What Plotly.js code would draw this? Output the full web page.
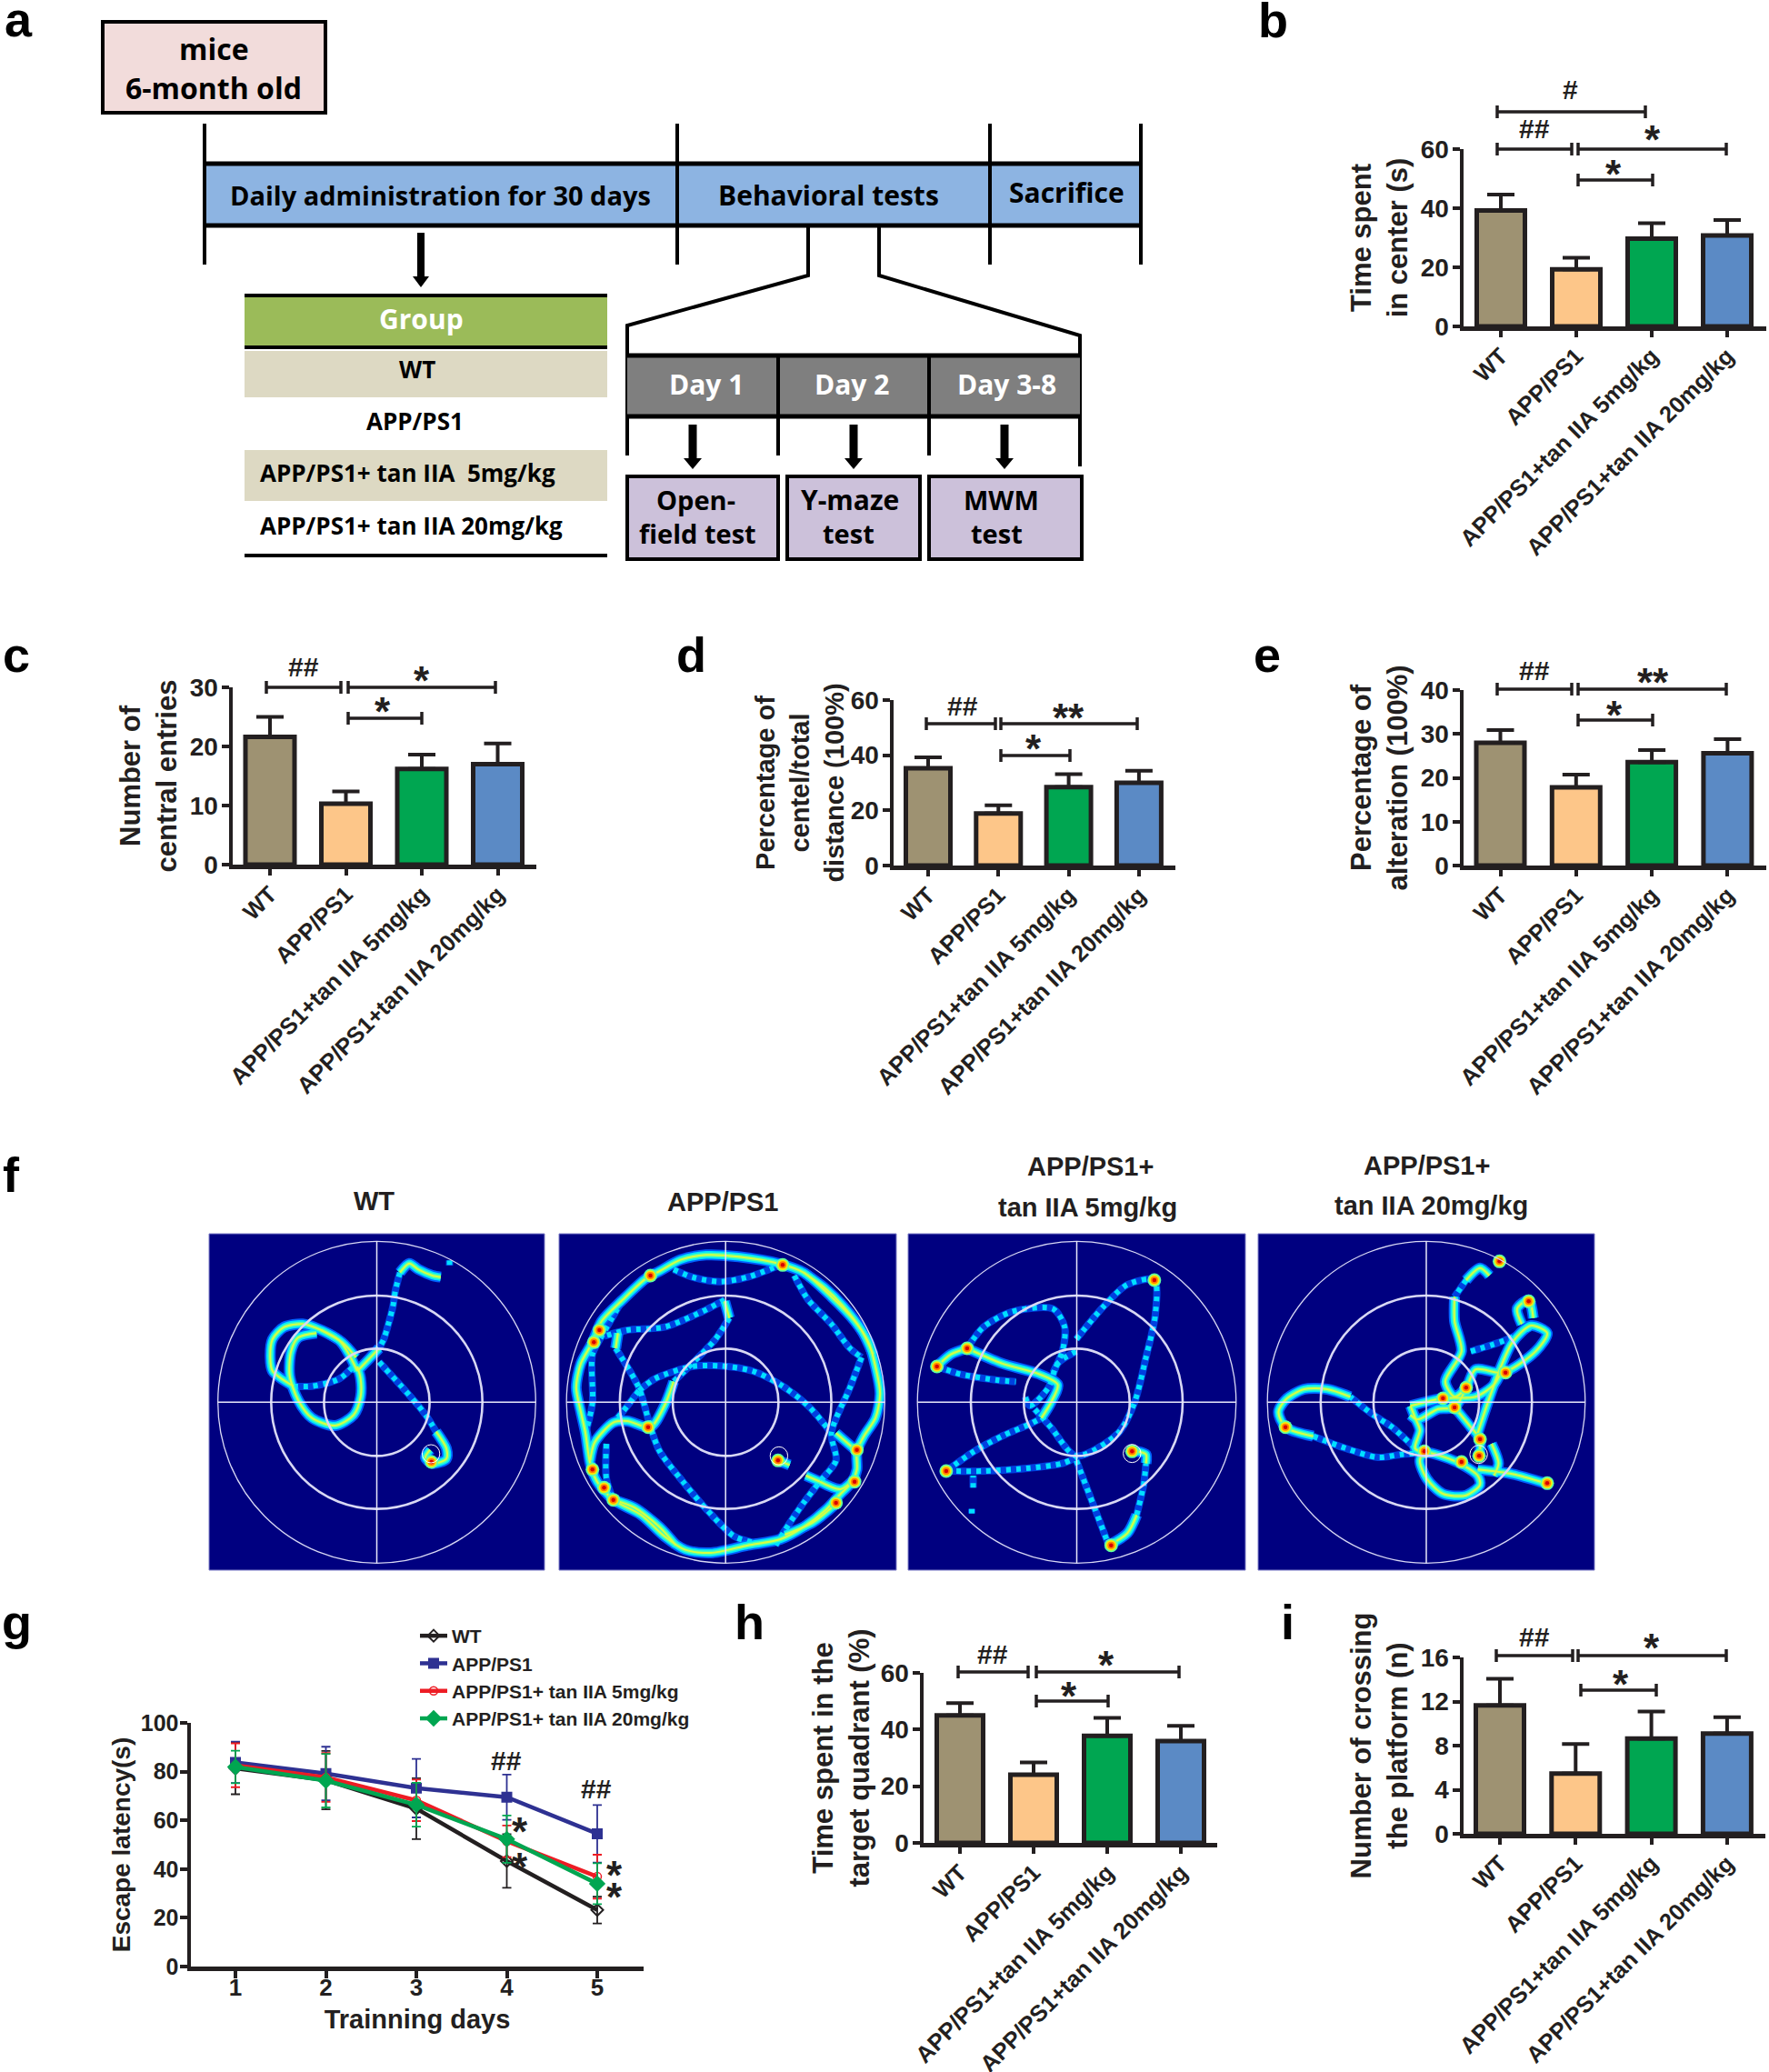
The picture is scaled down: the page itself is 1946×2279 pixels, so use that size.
<!DOCTYPE html>
<html><head><meta charset="utf-8">
<script src="https://cdn.plot.ly/plotly-3.0.1.min.js"></script>
<style>html,body{margin:0;padding:0;background:#fff}</style></head>
<body><div id="chart" style="width:1946px;height:2279px"></div>
<script>
// ---------- categories ----------
const groups = ['WT','APP/PS1','APP/PS1+tan IIA 5mg/kg','APP/PS1+tan IIA 20mg/kg'];
const groupColors = ['#9e9272','#fdc689','#00a651','#5b8ac5'];
const days = [1,2,3,4,5];
// ---------- bar values ----------
const bValues=[39.2,19.3,29.7,30.8], bErrors=[5.4,3.9,5.2,5.2];
const cValues=[21.6,10.3,16.2,17.0], cErrors=[3.4,2.1,2.4,3.5];
const dValues=[35.3,18.9,28.4,30.0], dErrors=[3.9,2.9,4.7,4.4];
const eValues=[28.0,17.8,23.6,25.6], eErrors=[2.9,2.9,2.7,3.2];
const hValues=[45.0,24.1,37.8,35.9], hErrors=[4.3,4.3,6.3,5.4];
const iValues=[11.64,5.46,8.63,9.10], iErrors=[2.43,2.68,2.46,1.47];
// ---------- escape latency ----------
const wtLatency=[81.3,76.5,64.8,43.3,23.2], wtLatencyErr=[10.6,12,12.5,11,5.5];
const appLatency=[83.8,79.2,73.2,69.5,54.5], appLatencyErr=[8.5,11,12,9.3,11.8];
const low5Latency=[82.6,77.6,68.2,51.4,36.9], low5LatencyErr=[9,10,8.5,6.5,9];
const high20Latency=[81.9,76.3,66.4,52.3,34.0], high20LatencyErr=[6.7,11,9,9.7,8.4];
const latencyNames=['WT','APP/PS1','APP/PS1+ tan IIA 5mg/kg','APP/PS1+ tan IIA 20mg/kg'];
// ---------- swim paths (frame coordinates) ----------
const wtSlow=[
 [[558,435],[540,430],[510,410],[490,390],[470,420]],
 [[378,745],[360,690],[340,645],[300,610],[260,590],[220,600],[195,640],[190,700],[195,745],[240,795]],
 [[290,620],[250,635],[235,680],[232,760],[250,840],[280,900],[330,925],[370,890],[385,830],[385,770],[378,730]],
 [[300,610],[345,650],[375,700]],
 [[378,745],[400,710],[425,670]],
 [[548,945],[570,1000],[570,1035],[540,1050],[525,1030],[535,1005]]];
const wtFast=[
 [[577,380],[577,397]],
 [[470,420],[460,480],[455,530],[445,590],[435,640],[425,670]],
 [[240,795],[280,795],[340,770],[375,720]],
 [[425,715],[470,790],[510,860],[530,900],[548,945]]];
const wtHot=[[538,1045]];
const appSlow=[
 [[1030,415],[1075,378],[1130,362],[1200,368],[1290,392],[1340,420],[1400,500],[1450,580],[1480,650],[1495,730],[1505,820],[1495,900],[1470,960],[1455,1010],[1455,1070],[1445,1110],[1420,1150],[1390,1200],[1340,1260],[1290,1300],[1220,1320],[1140,1345],[1085,1335],[1040,1290],[990,1220],[930,1170],[895,1110],[880,1050],[870,950],[860,880],[850,800],[860,720],[885,650],[905,580],[950,510],[1000,440],[1030,415]],
 [[1375,1110],[1420,1135],[1450,1100]],[[1345,1090],[1375,1110]],
 [[1410,950],[1455,1010]],
 [[1170,515],[1180,570]],[[1060,780],[1040,860],[1010,930],[960,910],[930,915],[890,980],[880,1040]],
 [[940,620],[935,670]],[[1285,1040],[1310,1055]],
 [[1340,420],[1385,470],[1425,530],[1465,610],[1490,690]],
 [[1300,1285],[1360,1245],[1405,1190]],
 [[930,1170],[975,1195],[1030,1260],[1065,1320]]];
const appFast=[
 [[1060,410],[1100,435],[1160,450],[1220,435],[1290,395]],
 [[1320,430],[1350,510],[1400,590],[1440,670],[1465,700]],
 [[1465,700],[1440,800],[1400,950],[1410,1040],[1375,1110],[1340,1180],[1300,1270],[1280,1320]],
 [[985,810],[1020,770],[1100,730],[1160,728],[1230,745],[1290,790],[1350,860],[1395,940]],
 [[1180,570],[1150,640],[1100,720],[1060,780]],
 [[1170,510],[1120,550],[1040,600],[960,610],[910,630]],
 [[935,670],[985,800],[1010,930],[1030,1010],[1080,1110],[1130,1200],[1190,1290],[1230,1310]],
 [[915,985],[915,1100],[930,1170]],
 [[950,510],[905,630],[885,690],[885,850],[870,950]],
 [[985,810],[950,880],[930,915]]];
const appHot=[[1010,430],[900,610],[888,650],[885,1070],[930,1170],[910,1130],[1295,395],[1450,1110],[1285,1040],[1455,1005],[1005,930],[1410,1180]];
const low5Slow=[
 [[165,670],[240,720],[320,755],[360,790],[345,850],[325,900]],
 [[165,670],[130,690],[100,730]],
 [[470,1320],[510,1280],[530,1220]],
 [[550,1050],[550,1020],[530,1010]]];
const low5Fast=[
 [[175,1200],[175,1215]],[[178,1130],[178,1090]],
 [[120,1075],[180,1010],[240,960],[300,920],[325,900]],
 [[120,1075],[200,1075],[300,1065],[370,1050],[400,1030]],
 [[400,1040],[420,1120],[440,1200],[470,1320]],
 [[530,1220],[545,1120],[550,1050]],
 [[100,730],[150,755],[230,775],[270,780]],
 [[165,670],[200,600],[260,550],[350,540],[375,600],[370,680],[350,750]],
 [[400,680],[360,720],[340,800],[300,860],[290,830]],
 [[400,640],[460,530],[510,460],[568,445],[570,560],[550,700],[525,850],[490,950],[400,1025],[345,930],[310,870]]];
const low5Hot=[[120,1075],[100,730],[165,670],[475,1320],[520,1010],[568,445]];
const high20Slow=[
 [[1290,430],[1270,405],[1240,445]],
 [[1215,500],[1215,580],[1230,680],[1195,780],[1215,830],[1240,800],[1260,740],[1320,750],[1390,680],[1415,620],[1380,595],[1340,650],[1310,750],[1280,880],[1265,950]],
 [[1360,590],[1350,540],[1375,510],[1385,570]],
 [[1120,860],[1190,835],[1260,830],[1300,790],[1315,750]],
 [[1120,860],[1130,900],[1140,940],[1130,1000],[1150,1015]],
 [[1120,890],[1135,905],[1180,870],[1215,865],[1240,800]],
 [[1215,865],[1250,930],[1270,970],[1268,1030]],
 [[990,830],[940,805],[890,805],[850,840],[835,880],[850,930],[910,960]],
 [[1150,1015],[1220,1045],[1265,1090],[1270,1120],[1240,1155],[1190,1150],[1155,1100],[1140,1040],[1150,1015]],
 [[1265,1070],[1340,1085],[1410,1115]],
 [[1300,1090],[1310,1050],[1295,985]]];
const high20Fast=[
 [[1312,378],[1305,392]],
 [[1240,445],[1215,500]],
 [[1250,680],[1330,640],[1380,600]],
 [[1130,1000],[1080,930],[1040,890],[990,830]],
 [[910,960],[980,1000],[1050,1030],[1100,1020],[1150,1015]]];
const high20Hot=[[1312,383],[850,930],[1150,1010],[1325,750],[1240,800],[1190,835],[1215,865],[1268,1025],[1415,1115],[1230,1045],[1270,970],[1375,515]];

// ---------- layout helpers ----------
const W=1946,H=2279,ink='#231f20',sans='Liberation Sans',soft='Open Sans';
const fx=x=>x/W, fy=y=>1-y/H;
const traces=[],shapes=[],annots=[],layout={};
function text(t,x,y,size,opt={}){annots.push(Object.assign({text:t,xref:'paper',yref:'paper',x:fx(x),y:fy(y),showarrow:false,xanchor:'center',yanchor:'middle',font:{family:sans,size,color:ink,weight:700}},opt));}
function softText(t,x,y,size,color='#000',anchor='center'){text(t,x,y,size,{xanchor:anchor,font:{family:soft,size,color,weight:700}});}
function path(pts,close){return pts.map((p,i)=>(i?'L':'M')+fx(p[0])+','+fy(p[1])).join(' ')+(close?' Z':'');}
function poly(pts,fill,lw,color){shapes.push({type:'path',xref:'paper',yref:'paper',path:path(pts,!!fill),fillcolor:fill||'rgba(0,0,0,0)',line:{color:color||'#000',width:lw||0}});}
function rect(x0,y0,x1,y1,fill,lw,color,layer){shapes.push({type:'rect',xref:'paper',yref:'paper',layer:layer||'above',x0:fx(x0),x1:fx(x1),y0:fy(y0),y1:fy(y1),fillcolor:fill||'rgba(0,0,0,0)',line:{color:color||'#000',width:lw||0}});}
function line(x0,y0,x1,y1,lw,color){poly([[x0,y0],[x1,y1]],null,lw,color||'#000');}
function arrow(x,y0,y1,sw,hw,hl){poly([[x-sw/2,y0],[x+sw/2,y0],[x+sw/2,y1-hl],[x+hw/2,y1-hl],[x,y1],[x-hw/2,y1-hl],[x-sw/2,y1-hl]],'#000');}
function bracket(x0,x1,y){poly([[x0,y-7],[x0,y+7]],null,3.5,ink);poly([[x1,y-7],[x1,y+7]],null,3.5,ink);poly([[x0,y],[x1,y]],null,3.5,ink);}
function mark(t,x,y){const star=t[0]==='*';text(t,x,y+(star?9:0),star?44:30);}
let axisN=0;
function newAxes(l,r,t,b){axisN++;const s=axisN===1?'':String(axisN);
 return {xk:'xaxis'+s,yk:'yaxis'+s,x:'x'+s,y:'y'+s,xd:[fx(l),fx(r)],yd:[fy(b),fy(t)]};}
function axisStyle(){return {showgrid:false,zeroline:false,showline:true,linecolor:ink,linewidth:4.5,ticks:'outside',tickcolor:ink,tickwidth:4,ticklen:8};}

// ---------- panels b, c, d, e, h, i ----------
function barPanel(p){
 const a=newAxes(p.l,p.r,p.t,p.b);
 traces.push({type:'bar',x:groups,y:p.values,width:p.barw/p.step,xaxis:a.x,yaxis:a.y,showlegend:false,cliponaxis:false,
  marker:{color:groupColors,line:{color:ink,width:5}},
  error_y:{type:'data',symmetric:false,array:p.errors,arrayminus:[0,0,0,0],color:ink,thickness:4,width:15}});
 layout[a.xk]=Object.assign(axisStyle(),{domain:a.xd,anchor:a.y,type:'category',range:[(p.l-p.c0)/p.step,(p.r-p.c0)/p.step],tickangle:-45,ticklen:7,ticklabelstandoff:-4,tickfont:{family:sans,size:25.5,color:ink,weight:700}});
 layout[a.yk]=Object.assign(axisStyle(),{domain:a.yd,anchor:a.x,range:[0,p.ymax],tickvals:p.ticks,tickfont:{family:sans,size:28,color:ink,weight:700},ticklabelstandoff:-2,
  title:{text:p.title,standoff:p.standoff,font:{family:sans,size:p.tsize||31,color:ink,weight:700}}});
 p.marks.forEach(m=>{if(m[1]!==null)bracket(m[1],m[2],m[3]);mark(m[0],m[4],m[5]);});
}
barPanel({values:bValues,errors:bErrors,ymax:60,ticks:[0,20,40,60],l:1610,r:1943,t:164,b:359,c0:1651,step:83,barw:53,title:'Time spent<br>in center (s)',standoff:6,
 marks:[['#',1647,1810,123,1727,99],['##',1647,1729,164,1688,142],['*',1736,1899,164,1818,145],['*',1736,1818,198,1775,182]]});
barPanel({values:cValues,errors:cErrors,ymax:30,ticks:[0,10,20,30],l:256,r:590,t:756,b:951,c0:297,step:83.5,barw:54,title:'Number of<br>central entries',standoff:6,
 marks:[['##',293,375,756,334,733],['*',383,545,756,464,739],['*',383,464,790,421,773]]});
barPanel({values:dValues,errors:dErrors,ymax:60,ticks:[0,20,40,60],l:983,r:1293,t:770,b:952,c0:1021,step:77.3,barw:49,title:'Percentage of<br>centel/total<br>distance (100%)',standoff:0,tsize:29,
 marks:[['##',1019,1095,796,1059,777],['**',1101,1251,796,1175,780],['*',1101,1177,831,1137,815]]});
barPanel({values:eValues,errors:eErrors,ymax:40,ticks:[0,10,20,30,40],l:1610,r:1943,t:759,b:952,c0:1650.5,step:83.3,barw:53,title:'Percentage of<br>alteration (100%)',standoff:6,
 marks:[['##',1647,1729,758,1688,738],['**',1736,1899,758,1818,741],['*',1736,1818,792,1776,777]]});
barPanel({values:hValues,errors:hErrors,ymax:60,ticks:[0,20,40,60],l:1016,r:1339,t:1840,b:2027,c0:1056,step:81,barw:51,title:'Time spent in the<br>target quadrant (%)',standoff:4,
 marks:[['##',1054,1131,1839,1092,1819],['*',1140,1297,1839,1217,1822],['*',1140,1219,1871,1176,1856]]});
barPanel({values:iValues,errors:iErrors,ymax:16,ticks:[0,4,8,12,16],l:1610,r:1942,t:1823,b:2017,c0:1650,step:83.3,barw:53,title:'Number of crossing<br>the platform (n)',standoff:6,
 marks:[['##',1646,1730,1821,1688,1800],['*',1736,1899,1821,1817,1803],['*',1739,1822,1859,1783,1843]]});

// ---------- panel g ----------
(function(){
 const a=newAxes(210,708,1895,2163);
 const rows=[[wtLatency,wtLatencyErr,'#231f20','diamond-open',10],[appLatency,appLatencyErr,'#2e3192','square',10],[low5Latency,low5LatencyErr,'#ed1c24','circle-open',9],[high20Latency,high20LatencyErr,'#00a651','diamond',12]];
 rows.forEach((r,i)=>traces.push({type:'scatter',mode:'lines+markers',name:latencyNames[i],x:days,y:r[0],xaxis:a.x,yaxis:a.y,cliponaxis:false,
  line:{color:r[2],width:4.5},marker:{color:r[2],symbol:r[3],size:r[4],line:{color:i===2?'#5a2a2a':r[2],width:i===2?1.5:2}},
  error_y:{type:'data',array:r[1],color:r[2],thickness:1.8,width:5}}));
 layout[a.xk]=Object.assign(axisStyle(),{domain:a.xd,anchor:a.y,range:[1+(210-259)/99.5,1+(708-259)/99.5],tickvals:days,tickfont:{family:sans,size:26,color:ink,weight:700},ticklabelstandoff:-12,
  title:{text:'Trainning days',standoff:12,font:{family:sans,size:29,color:ink,weight:700}}});
 layout[a.yk]=Object.assign(axisStyle(),{domain:a.yd,anchor:a.x,range:[0,100],tickvals:[0,20,40,60,80,100],tickfont:{family:sans,size:25,color:ink,weight:700},ticklabelstandoff:-4,
  title:{text:'Escape latency(s)',standoff:4,font:{family:sans,size:28,color:ink,weight:700}}});
 mark('##',557,1936);mark('##',656,1967);mark('*',572,2005);mark('*',572,2044);mark('*',676,2053);mark('*',676,2077);
})();

// ---------- panel f ----------
const flat=(paths)=>{const xs=[],ys=[];paths.forEach(p=>{p.forEach(q=>{xs.push(q[0]);ys.push(q[1]);});xs.push(null);ys.push(null);});return [xs,ys];};
function pool(fr){
 const a=newAxes(fr.l,fr.r,1357,1727);
 layout[a.xk]={domain:a.xd,anchor:a.y,range:[fr.zl,fr.zr],visible:false};
 layout[a.yk]={domain:a.yd,anchor:a.x,range:[1402,292],visible:false};
 rect(fr.l,1357,fr.r,1727,'#000080',1,'#7f7fc8','below');
 const add=(paths,color,width,dash)=>{const f=flat(paths);traces.push({type:'scatter',mode:'lines',x:f[0],y:f[1],xaxis:a.x,yaxis:a.y,showlegend:false,hoverinfo:'skip',line:{color,width,dash:dash||'solid',shape:'spline',smoothing:0.8}});};
 add(fr.fast,'#0040e0',8);add(fr.slow,'#0060ff',12);
 add(fr.fast,'#00e0ff',6,'5px,6px');add(fr.slow,'#00e4ff',8.5);add(fr.slow,'#50ffb0',5);add(fr.slow,'#d8ff40',2);
 const hx=fr.hot.map(q=>q[0]),hy=fr.hot.map(q=>q[1]);
 [['#60ffa0',15],['#ffe800',11.5],['#ff8000',8],['#d80000',4.5]].forEach(m=>
  traces.push({type:'scatter',mode:'markers',x:hx,y:hy,xaxis:a.x,yaxis:a.y,showlegend:false,hoverinfo:'skip',marker:{color:m[0],size:m[1],line:{width:0}}}));
 const cst=(r,rx,w)=>shapes.push({type:'circle',xref:a.x,yref:a.y,x0:fr.cx-r,x1:fr.cx+r,y0:848-rx,y1:848+rx,line:{color:'#d8d8f4',width:w},fillcolor:'rgba(0,0,0,0)'});
 cst(343,531,1.3);cst(228,352,2.6);cst(114,177,2.6);
 shapes.push({type:'line',xref:a.x,yref:a.y,x0:fr.cx-343,x1:fr.cx+343,y0:848,y1:848,line:{color:'#e8e8fa',width:1.5}});
 shapes.push({type:'line',xref:a.x,yref:a.y,x0:fr.cx,x1:fr.cx,y0:317,y1:1379,line:{color:'#e8e8fa',width:1.5}});
 shapes.push({type:'circle',xref:a.x,yref:a.y,x0:fr.pl[0]-19,x1:fr.pl[0]+19,y0:fr.pl[1]-30,y1:fr.pl[1]+30,line:{color:'#ffffff',width:1},fillcolor:'rgba(0,0,0,0)'});
}
pool({l:230,r:599,zl:58,zr:782,cx:420,pl:[537,1018],slow:wtSlow,fast:wtFast,hot:wtHot});
pool({l:615,r:986,zl:813,zr:1540,cx:1172,pl:[1287,1025],slow:appSlow,fast:appFast,hot:appHot});
pool({l:999,r:1370,zl:38,zr:764,cx:401,pl:[520,1017],slow:low5Slow,fast:low5Fast,hot:low5Hot});
pool({l:1384,r:1754,zl:791,zr:1517,cx:1154,pl:[1267,1020],slow:high20Slow,fast:high20Fast,hot:high20Hot});
text('WT',411,1321,29);text('APP/PS1',795,1322,29);
text('APP/PS1+',1199,1283,29);text('tan IIA 5mg/kg',1196,1328,29);
text('APP/PS1+',1569,1282,29);text('tan IIA 20mg/kg',1574,1326,29);

// ---------- panel a ----------
rect(113,24,358,124,'#f2dcdb',4);
softText('mice',235,53,32);softText('6-month old',235,96,32);
rect(225,180,1255,248,'#8db4e2');
line(225,180,1255,180,5);line(225,248,1255,248,5);
[225,745,1089,1255].forEach(x=>line(x,136,x,291,4));
softText('Daily administration for 30 days',484,214,29);
softText('Behavioral tests',911,214,30);softText('Sacrifice',1173,212,30);
arrow(463,256,316,8,18,12);
rect(269,325,668,382,'#9bbb59');rect(269,386,668,437,'#ddd9c3');rect(269,495,668,551,'#ddd9c3');
line(269,325,668,325,4);line(269,382,668,382,4);line(269,611,668,611,4);
softText('Group',463,351,30,'#ffffff');softText('WT',459,406,26);softText('APP/PS1',456,463,26);
softText('APP/PS1+ tan IIA  5mg/kg',284,520,26,'#000','left');softText('APP/PS1+ tan IIA 20mg/kg',284,578,26,'#000','left');
poly([[889,248],[889,303],[690,358],[690,501]],null,4);
poly([[967,248],[967,303],[1188,369],[1188,513]],null,4);
rect(690,391,1188,458,'#7f7f7f');
line(690,391,1188,391,5);line(690,458,1188,458,5);
[856,1022].forEach(x=>line(x,391,x,501,4));
softText('Day 1',777,423,30,'#ffffff');softText('Day 2',937,423,30,'#ffffff');softText('Day 3-8',1107,423,30,'#ffffff');
arrow(762,467,516,9,20,12);arrow(939,467,516,9,20,12);arrow(1105,467,516,9,20,12);
rect(690,524,856,615,'#ccc1da',4);rect(866,524,1012,615,'#ccc1da',4);rect(1022,524,1190,615,'#ccc1da',4);
softText('Open-',765,549,29);softText('field test',767,586,29);
softText('Y-maze',935,549,30);softText('test',933,586,29);
softText('MWM',1101,549,29);softText('test',1096,586,29);

// ---------- panel letters ----------
[['a',3,21],['b',1382,22],['c',1,720],['d',742,720],['e',1377,720],['f',1,1292],['g',0,1784],['h',806,1784],['i',1407,1784]]
 .forEach(l=>text(l[0],l[1],l[2],54,{xanchor:'left',font:{family:sans,size:54,color:'#000',weight:700}}));

Object.assign(layout,{width:W,height:H,margin:{l:0,r:0,t:0,b:0},paper_bgcolor:'#fff',plot_bgcolor:'rgba(0,0,0,0)',bargap:0,
 shapes,annotations:annots,hovermode:false,
 legend:{x:fx(457),y:fy(1779),xanchor:'left',yanchor:'top',bgcolor:'rgba(0,0,0,0)',font:{family:sans,size:21,color:ink,weight:700},tracegroupgap:0,itemwidth:30}});
Plotly.newPlot('chart',traces,layout,{displayModeBar:false,staticPlot:true});
</script></body></html>
